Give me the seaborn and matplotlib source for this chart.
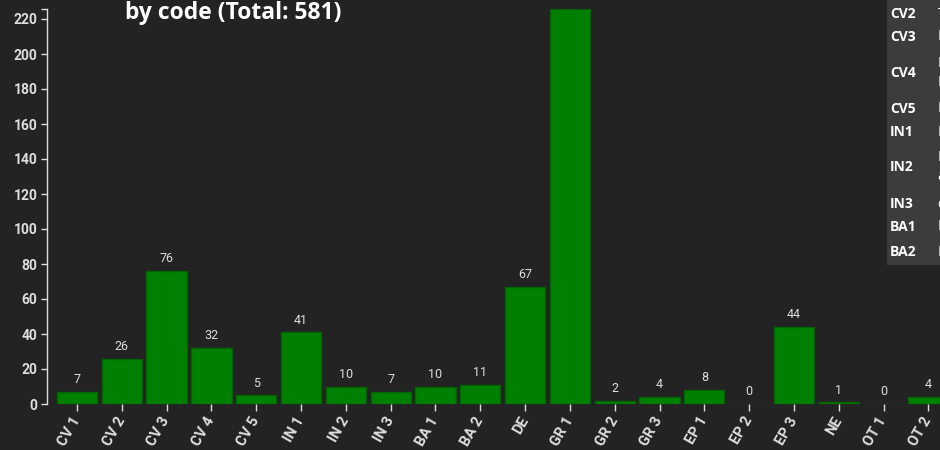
import matplotlib
matplotlib.use("Agg")
import matplotlib.pyplot as plt
import seaborn as sns
from matplotlib.patches import Rectangle

# counts per code (total 581)
codes = ["CV 1", "CV 2", "CV 3", "CV 4", "CV 5", "IN 1", "IN 2", "IN 3", "BA 1", "BA 2",
         "DE", "GR 1", "GR 2", "GR 3", "EP 1", "EP 2", "EP 3", "NE", "OT 1", "OT 2"]
counts = [7, 26, 76, 32, 5, 41, 10, 7, 10, 11, 67, 226, 2, 4, 8, 0, 44, 1, 0, 4]

# legend table on the right (cut off by the frame)
table_codes = ["CV2", "CV3", "CV4", "CV5", "IN1", "IN2", "IN3", "BA1", "BA2"]
table_desc = ["T", "I", "I\nI", "I", "I", "I\na", "c", "I", "I"]
table_rows_y = [14, 37, 73, 109, 132, 167, 204, 227, 252]

bg = "#232323"
fg = "#dedede"

sns.set_style("dark")
plt.rcParams["font.family"] = ["Roboto", "DejaVu Sans"]

fig = plt.figure(figsize=(9.4, 4.5), dpi=100, facecolor=bg)
ax = fig.add_axes([47 / 940, 46 / 450, 893 / 940, 395.5 / 450])
ax.set_facecolor(bg)

sns.barplot(x=codes, y=counts, color="#008000", saturation=1, width=0.9,
            edgecolor="#006400", linewidth=1, ax=ax)

ax.set_xlim(-0.67, 19.26)
ax.set_ylim(0, 226)
ax.set_yticks(range(0, 221, 20))
ax.set_yticks([226], minor=True)
ax.grid(False)

for s in ["top", "right", "bottom"]:
    ax.spines[s].set_visible(False)
ax.spines["left"].set_color(fg)
ax.spines["left"].set_linewidth(1)

ax.tick_params(axis="y", which="both", colors=fg, length=4, width=1, pad=3,
               labelsize=10, left=True)
ax.tick_params(axis="x", colors=fg, length=5, width=1, pad=5, labelsize=10.5, bottom=True)
for lab in ax.get_yticklabels():
    lab.set_fontweight("bold")
for lab in ax.get_xticklabels():
    lab.set_fontweight("bold")
    lab.set_rotation(60)
    lab.set_ha("right")
    lab.set_va("center")
    lab.set_rotation_mode("anchor")
ax.set_xlabel("")
ax.set_ylabel("")

ax.bar_label(ax.containers[0], padding=4, color=fg, fontsize=9)

fig.text(125 / 940, 1 - 19 / 450, "by code (Total: 581)", ha="left", va="baseline",
         fontsize=16.5, fontweight="bold", family=["Open Sans", "DejaVu Sans"], color="white")

# table panel
fig.patches.append(Rectangle((887 / 940, 1 - 265 / 450), 60 / 940, 265 / 450,
                             transform=fig.transFigure, facecolor="#3c3c3c",
                             edgecolor="none", zorder=5))
for code, desc, yy in zip(table_codes, table_desc, table_rows_y):
    fig.text(890 / 940, 1 - yy / 450, code, ha="left", va="center", fontsize=10,
             fontweight="bold", family=["Open Sans", "DejaVu Sans"], color="white", zorder=6)
    fig.text(937.5 / 940, 1 - yy / 450, desc, ha="left", va="center", fontsize=10,
             family=["Open Sans", "DejaVu Sans"], color="white", zorder=6, linespacing=1.4)

fig.savefig("out.png", dpi=100, facecolor=bg)
